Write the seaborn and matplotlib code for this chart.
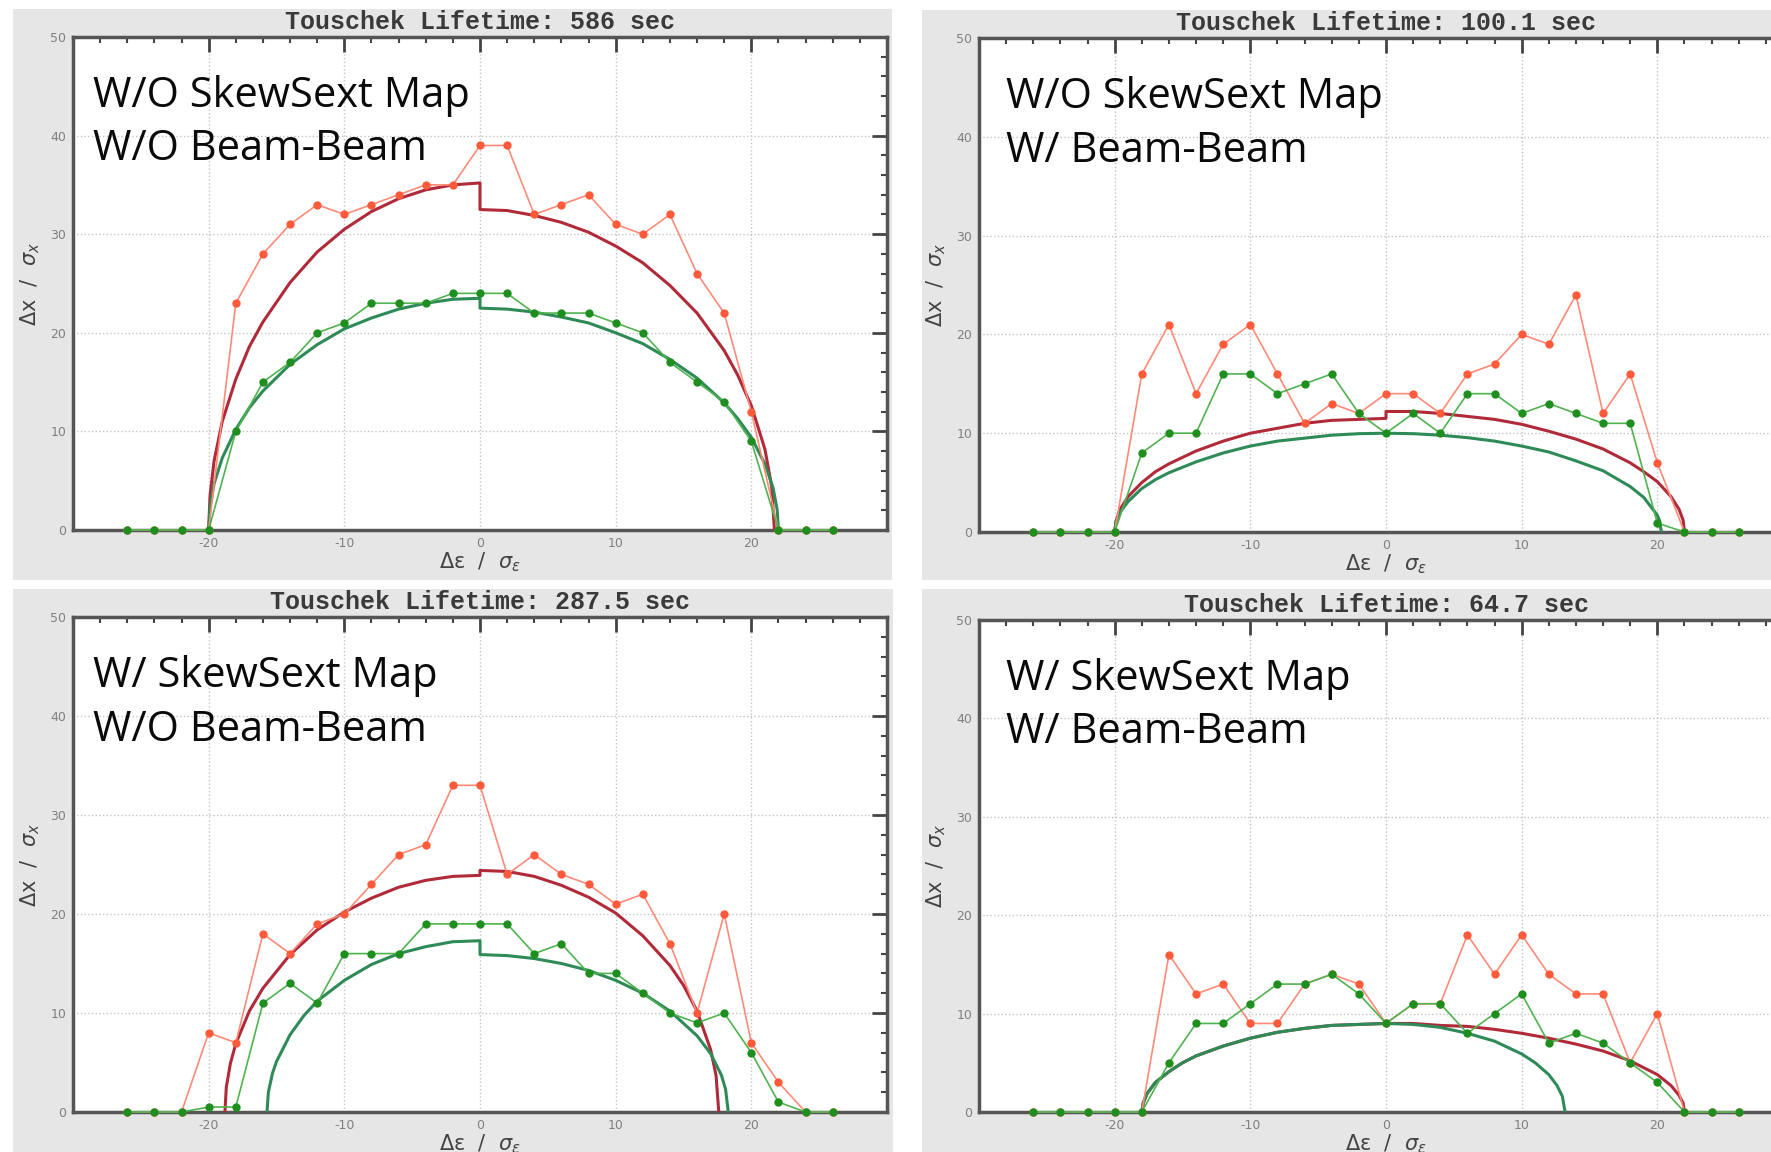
import matplotlib
matplotlib.use("Agg")
import matplotlib.pyplot as plt
from matplotlib.patches import Rectangle
from matplotlib.ticker import MultipleLocator, FixedLocator
import seaborn as sns

# ── Data ──────────────────────────────────────────────────────────────────────
X_PTS = [-26, -24, -22, -20, -18, -16, -14, -12, -10, -8, -6, -4, -2, 0,
         2, 4, 6, 8, 10, 12, 14, 16, 18, 20, 22, 24, 26]

TITLES = ["Touschek Lifetime: 586 sec", "Touschek Lifetime: 100.1 sec",
          "Touschek Lifetime: 287.5 sec", "Touschek Lifetime: 64.7 sec"]
LABELS = [("W/O SkewSext Map", "W/O Beam-Beam"),
          ("W/O SkewSext Map", "W/ Beam-Beam"),
          ("W/ SkewSext Map", "W/O Beam-Beam"),
          ("W/ SkewSext Map", "W/ Beam-Beam")]

# tracked points (red / green)
red_1 = [0, 0, 0, 0, 23, 28, 31, 33, 32, 33, 34, 35, 35, 39, 39, 32, 33, 34, 31, 30, 32, 26, 22, 12, 0, 0, 0]
green_1 = [0, 0, 0, 0, 10, 15, 17, 20, 21, 23, 23, 23, 24, 24, 24, 22, 22, 22, 21, 20, 17, 15, 13, 9, 0, 0, 0]
red_2 = [0, 0, 0, 0, 16, 21, 14, 19, 21, 16, 11, 13, 12, 14, 14, 12, 16, 17, 20, 19, 24, 12, 16, 7, 0, 0, 0]
green_2 = [0, 0, 0, 0, 8, 10, 10, 16, 16, 14, 15, 16, 12, 10, 12, 10, 14, 14, 12, 13, 12, 11, 11, 0.9, 0, 0, 0]
red_3 = [0, 0, 0, 8, 7, 18, 16, 19, 20, 23, 26, 27, 33, 33, 24, 26, 24, 23, 21, 22, 17, 10, 20, 7, 3, 0, 0]
green_3 = [0, 0, 0, 0.5, 0.5, 11, 13, 11, 16, 16, 16, 19, 19, 19, 19, 16, 17, 14, 14, 12, 10, 9, 10, 6, 1, 0, 0]
red_4 = [0, 0, 0, 0, 0, 16, 12, 13, 9, 9, 13, 14, 13, 9, 11, 11, 18, 14, 18, 14, 12, 12, 5, 10, 0, 0, 0]
green_4 = [0, 0, 0, 0, 0, 5, 9, 9, 11, 13, 13, 14, 12, 9, 11, 11, 8, 10, 12, 7, 8, 7, 5, 3, 0, 0, 0]

# smooth aperture curves
rc1_x = [-20, -19.9, -19.6, -19, -18, -17, -16, -14, -12, -10, -8, -6, -4, -2, 0,
         0, 2, 4, 6, 8, 10, 12, 14, 16, 18, 19, 20, 21, 21.5, 21.7]
rc1_y = [0, 3.5, 7.0, 11.0, 15.3, 18.6, 21.1, 25.1, 28.2, 30.5, 32.3, 33.6, 34.5, 35.0, 35.2,
         32.5, 32.4, 31.9, 31.2, 30.2, 28.8, 27.1, 24.8, 22.0, 18.2, 15.7, 12.6, 8.2, 4.4, 0]
gc1_x = [-20, -19.9, -19.6, -19, -18, -17, -16, -14, -12, -10, -8, -6, -4, -2, 0,
         0, 2, 4, 6, 8, 10, 12, 14, 16, 18, 19, 20, 21, 21.6, 21.9, 22]
gc1_y = [0, 2.3, 4.7, 7.3, 10.2, 12.4, 14.1, 16.8, 18.8, 20.4, 21.5, 22.4, 23.0, 23.4, 23.5,
         22.5, 22.4, 22.1, 21.6, 21.0, 20.0, 18.9, 17.3, 15.4, 12.9, 11.3, 9.4, 6.7, 4.3, 2.1, 0]

rc2_x = [-20, -19.9, -19.6, -19, -18, -17, -16, -14, -12, -10, -8, -6, -4, -2, 0,
         0, 2, 4, 6, 8, 10, 12, 14, 16, 18, 19, 20, 21, 21.6, 21.9, 22]
rc2_y = [0, 1.1, 2.3, 3.6, 5.0, 6.1, 6.9, 8.2, 9.2, 10.0, 10.5, 11.0, 11.3, 11.4, 11.5,
         12.2, 12.2, 12.0, 11.7, 11.4, 10.9, 10.2, 9.4, 8.4, 7.0, 6.1, 5.1, 3.6, 2.3, 1.2, 0]
gc2_x = [-20, -19.9, -19.6, -19, -18, -17, -16, -14, -12, -10, -8, -6, -4, -2, 0,
         2, 4, 6, 8, 10, 12, 14, 16, 18, 19, 20, 20.15, 20.3]
gc2_y = [0, 1.0, 2.0, 3.1, 4.4, 5.3, 6.0, 7.1, 8.0, 8.7, 9.2, 9.5, 9.8, 9.95, 10,
         9.95, 9.8, 9.55, 9.2, 8.7, 8.1, 7.2, 6.2, 4.6, 3.5, 1.7, 1.2, 0]

rc3_x = [-18.8, -18.7, -18.4, -18, -17, -16, -14, -12, -10, -8, -6, -4, -2, 0,
         0, 2, 4, 6, 8, 10, 12, 14, 15, 16, 17, 17.4, 17.6]
rc3_y = [0, 2.5, 4.9, 6.9, 10.2, 12.5, 15.9, 18.4, 20.2, 21.6, 22.7, 23.4, 23.8, 23.9,
         24.4, 24.3, 23.8, 22.9, 21.7, 20.1, 17.8, 14.8, 12.8, 10.2, 6.3, 3.7, 0]
gc3_x = [-15.7, -15.6, -15.3, -15, -14, -13, -12, -10, -8, -6, -4, -2, 0,
         0, 2, 4, 6, 8, 10, 12, 14, 16, 17, 17.8, 18.1, 18.3]
gc3_y = [0, 2.0, 3.9, 5.1, 7.8, 9.7, 11.2, 13.3, 14.9, 16.0, 16.7, 17.2, 17.3,
         15.9, 15.8, 15.5, 15.0, 14.3, 13.3, 12.0, 10.2, 7.7, 5.9, 3.7, 2.3, 0]

rc4_x = [-18, -17.9, -17.6, -17, -16, -15, -14, -12, -10, -8, -6, -4, -2, 0,
         2, 4, 6, 8, 10, 12, 14, 16, 18, 19, 20, 21, 21.6, 21.9, 22]
rc4_y = [0, 0.9, 1.9, 3.0, 4.1, 5.0, 5.7, 6.7, 7.5, 8.1, 8.5, 8.8, 8.9, 9.0,
         9.0, 8.8, 8.7, 8.4, 8.0, 7.5, 6.9, 6.2, 5.2, 4.5, 3.8, 2.7, 1.7, 0.9, 0]
gc4_x = [-18, -17.9, -17.6, -17, -16, -15, -14, -12, -10, -8, -6, -4, -2, 0,
         2, 4, 6, 8, 10, 11, 12, 12.6, 13, 13.2]
gc4_y = [0, 0.9, 1.9, 3.0, 4.1, 5.0, 5.7, 6.7, 7.5, 8.1, 8.5, 8.8, 8.9, 9.0,
         8.9, 8.6, 8.0, 7.2, 5.9, 5.0, 3.8, 2.7, 1.6, 0]

# ── Style ─────────────────────────────────────────────────────────────────────
RED_DOT   = "#ff5a3a"
RED_LINE  = "#ff8a78"
GRN_DOT   = "#1e8f1e"
GRN_LINE  = "#4fb34f"
RED_CURVE = "#b02a3a"
GRN_CURVE = "#2e8b57"
PANEL_BG  = "#e6e6e6"
SPINE     = "#555555"

sns.set_style("white")
plt.rcParams.update({
    "font.family": ["DejaVu Sans"],
    "axes.unicode_minus": False,
    "mathtext.fontset": "dejavusans",
})

W, H = 1771, 1152
fig = plt.figure(figsize=(W / 100, H / 100), dpi=100, facecolor="white")


def px_rect(x0, y0, x1, y1):
    # pixel box -> figure fraction
    return [x0 / W, 1 - y1 / H, (x1 - x0) / W, (y1 - y0) / H]


# grey panel backgrounds
for box in [(13, 9, 892, 580), (922, 10, W, 580), (13, 589, 893, H), (922, 589, W, H)]:
    l, b, w, h = px_rect(*box)
    fig.patches.append(Rectangle((l, b), w, h, transform=fig.transFigure,
                                 facecolor=PANEL_BG, edgecolor="none", zorder=-5))

AX_BOXES = [(73, 37, 887, 530), (979, 38, 1793, 532),
            (73, 617, 887, 1112), (979, 620, 1793, 1112)]
TEXT_X = [0.024, 0.033, 0.024, 0.033]

panels = [
    (red_1, green_1, rc1_x, rc1_y, gc1_x, gc1_y),
    (red_2, green_2, rc2_x, rc2_y, gc2_x, gc2_y),
    (red_3, green_3, rc3_x, rc3_y, gc3_x, gc3_y),
    (red_4, green_4, rc4_x, rc4_y, gc4_x, gc4_y),
]

for i, (rp, gp, rcx, rcy, gcx, gcy) in enumerate(panels):
    ax = fig.add_axes(px_rect(*AX_BOXES[i]), zorder=2)
    ax.set_facecolor("white")

    # smooth curves
    sns.lineplot(x=rcx, y=rcy, ax=ax, sort=False, estimator=None,
                 color=RED_CURVE, lw=2.2, zorder=3)
    sns.lineplot(x=gcx, y=gcy, ax=ax, sort=False, estimator=None,
                 color=GRN_CURVE, lw=2.2, zorder=3.2)

    # tracked points
    sns.lineplot(x=X_PTS, y=rp, ax=ax, sort=False, estimator=None,
                 color=RED_LINE, lw=1.2, marker="o", markersize=6,
                 markerfacecolor=RED_DOT, markeredgecolor=RED_DOT,
                 markeredgewidth=0, zorder=4, clip_on=False)
    sns.lineplot(x=X_PTS, y=gp, ax=ax, sort=False, estimator=None,
                 color=GRN_LINE, lw=1.2, marker="o", markersize=6,
                 markerfacecolor=GRN_DOT, markeredgecolor=GRN_DOT,
                 markeredgewidth=0, zorder=5, clip_on=False)

    ax.set_xlim(-30, 30)
    ax.set_ylim(0, 50)
    ax.xaxis.set_major_locator(FixedLocator([-20, -10, 0, 10, 20]))
    ax.xaxis.set_minor_locator(MultipleLocator(2))
    ax.yaxis.set_major_locator(MultipleLocator(10))
    ax.yaxis.set_minor_locator(MultipleLocator(2))
    ax.tick_params(which="both", direction="in", top=True, right=True,
                   color="#444444", labelcolor="#808080", labelsize=9)
    ax.tick_params(which="major", length=11, width=2, pad=5)
    ax.tick_params(which="minor", length=4, width=1.5)
    ax.grid(True, which="major", ls=":", color="#c4c4c4", lw=1)
    for sp in ax.spines.values():
        sp.set_color(SPINE)
        sp.set_linewidth(2.5)

    ax.set_title(TITLES[i], fontfamily="Liberation Mono", fontweight="bold",
                 fontsize=18, color="#3a3a3a", pad=6)
    ax.set_xlabel(r"Δε  /  $\sigma_\varepsilon$", fontsize=15, color="#444444", labelpad=0)
    ax.set_ylabel(r"Δx  /  $\sigma_x$", fontsize=15, color="#444444", labelpad=6)

    top, bottom = LABELS[i]
    ax.text(TEXT_X[i], 0.858, top, transform=ax.transAxes, fontfamily="Open Sans",
            fontsize=30, color="#0a0a0a", va="baseline", ha="left", zorder=6)
    ax.text(TEXT_X[i], 0.750, bottom, transform=ax.transAxes, fontfamily="Open Sans",
            fontsize=30, color="#0a0a0a", va="baseline", ha="left", zorder=6)

fig.savefig("out.png", dpi=100, facecolor="white")
